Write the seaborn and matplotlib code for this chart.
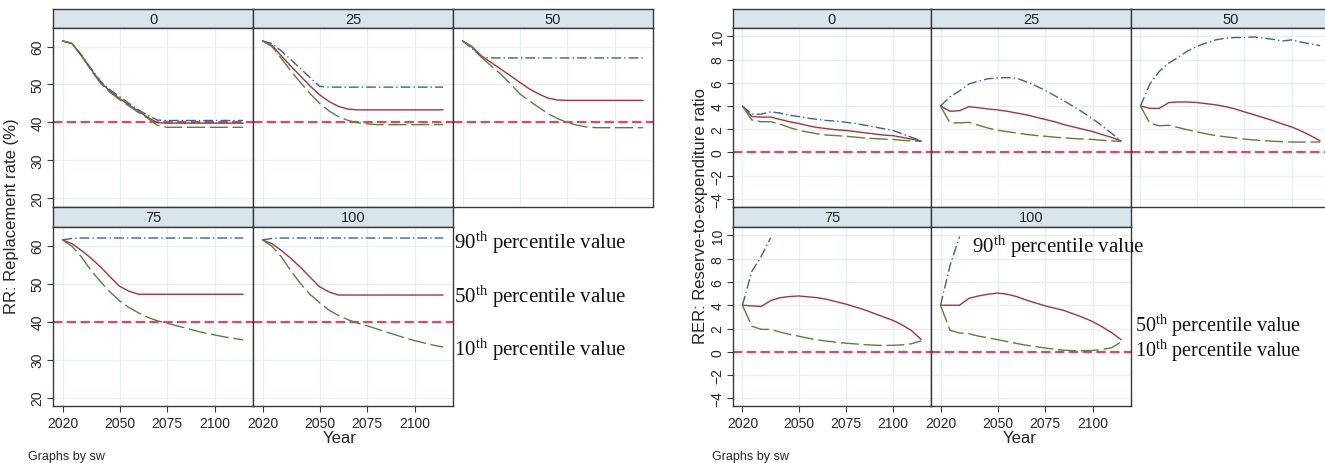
import numpy as np
import pandas as pd
import matplotlib
matplotlib.use("Agg")
import matplotlib.pyplot as plt
import seaborn as sns

# ---------------- data ----------------
YEARS = [2020, 2025, 2030, 2035, 2040, 2045, 2050, 2055, 2060, 2065,
         2070, 2075, 2080, 2085, 2090, 2095, 2100, 2105, 2110, 2115]
SW = [0, 25, 50, 75, 100]
NaN = float("nan")

# RR: replacement rate (%)
rr_p90_0 = [61.5, 60.8, 57.8, 54.2, 50.8, 48.6, 46.8, 45.0, 43.3, 41.8, 40.6, 40.5, 40.5, 40.5, 40.5, 40.5, 40.5, 40.5, 40.5, 40.5]
rr_p50_0 = [61.5, 60.8, 57.6, 54.0, 50.6, 48.2, 46.3, 44.6, 42.9, 41.3, 39.9, 39.8, 39.8, 39.8, 39.8, 39.8, 39.8, 39.8, 39.8, 39.8]
rr_p10_0 = [61.5, 60.8, 57.5, 53.8, 50.3, 47.9, 46.0, 44.3, 42.6, 41.0, 39.2, 38.7, 38.7, 38.7, 38.7, 38.7, 38.7, 38.7, 38.7, 38.7]

rr_p90_25 = [61.5, 60.8, 58.8, 56.5, 54.2, 51.8, 49.5, 49.3, 49.3, 49.3, 49.3, 49.3, 49.3, 49.3, 49.3, 49.3, 49.3, 49.3, 49.3, 49.3]
rr_p50_25 = [61.5, 60.3, 57.5, 54.8, 52.2, 49.6, 47.3, 45.5, 44.2, 43.5, 43.3, 43.3, 43.3, 43.3, 43.3, 43.3, 43.3, 43.3, 43.3, 43.3]
rr_p10_25 = [61.5, 60.0, 56.8, 53.5, 50.5, 47.6, 45.0, 43.0, 41.5, 40.5, 39.9, 39.6, 39.4, 39.4, 39.4, 39.4, 39.4, 39.4, 39.4, 39.4]

rr_p90_50 = [61.5, 59.5, 57.2, 57.0, 57.0, 57.0, 57.0, 57.0, 57.0, 57.0, 57.0, 57.0, 57.0, 57.0, 57.0, 57.0, 57.0, 57.0, 57.0, 57.0]
rr_p50_50 = [61.5, 60.0, 57.5, 55.8, 54.1, 52.4, 50.6, 48.9, 47.5, 46.4, 45.9, 45.8, 45.8, 45.8, 45.8, 45.8, 45.8, 45.8, 45.8, 45.8]
rr_p10_50 = [61.5, 59.8, 57.2, 54.9, 52.8, 50.3, 47.6, 45.7, 44.0, 42.3, 41.0, 40.0, 39.3, 38.8, 38.6, 38.6, 38.6, 38.6, 38.6, 38.6]

rr_p90_75 = [61.5, 61.9, 62.0, 62.0, 62.0, 62.0, 62.0, 62.0, 62.0, 62.0, 62.0, 62.0, 62.0, 62.0, 62.0, 62.0, 62.0, 62.0, 62.0, 62.0]
rr_p50_75 = [61.5, 60.5, 58.7, 56.7, 54.4, 51.8, 49.3, 48.0, 47.2, 47.2, 47.2, 47.2, 47.2, 47.2, 47.2, 47.2, 47.2, 47.2, 47.2, 47.2]
rr_p10_75 = [61.5, 59.8, 57.0, 53.5, 50.5, 47.8, 45.5, 43.7, 42.3, 41.1, 40.2, 39.6, 38.9, 38.3, 37.6, 37.0, 36.5, 36.0, 35.6, 35.2]

rr_p90_100 = [61.5, 61.9, 62.0, 62.0, 62.0, 62.0, 62.0, 62.0, 62.0, 62.0, 62.0, 62.0, 62.0, 62.0, 62.0, 62.0, 62.0, 62.0, 62.0, 62.0]
rr_p50_100 = [61.5, 60.5, 58.7, 56.6, 54.3, 51.7, 49.2, 47.8, 47.0, 47.0, 47.0, 47.0, 47.0, 47.0, 47.0, 47.0, 47.0, 47.0, 47.0, 47.0]
rr_p10_100 = [61.5, 59.8, 57.0, 53.3, 50.0, 47.2, 45.0, 43.0, 41.6, 40.5, 39.6, 38.9, 38.1, 37.3, 36.5, 35.7, 35.0, 34.4, 33.8, 33.3]

# RER: reserve-to-expenditure ratio
rer_p90_0 = [4.0, 3.3, 3.3, 3.5, 3.4, 3.2, 3.1, 2.95, 2.85, 2.75, 2.7, 2.6, 2.5, 2.35, 2.2, 2.05, 1.9, 1.6, 1.3, 1.0]
rer_p50_0 = [4.0, 3.1, 3.05, 3.05, 2.85, 2.65, 2.5, 2.3, 2.15, 2.05, 1.95, 1.9, 1.8, 1.7, 1.6, 1.5, 1.45, 1.3, 1.15, 1.0]
rer_p10_0 = [4.0, 2.8, 2.65, 2.65, 2.45, 2.15, 1.9, 1.75, 1.6, 1.5, 1.45, 1.4, 1.32, 1.25, 1.2, 1.15, 1.12, 1.05, 1.0, 0.95]

rer_p90_25 = [4.0, 4.8, 5.3, 5.9, 6.15, 6.35, 6.42, 6.45, 6.4, 6.1, 5.75, 5.35, 4.9, 4.45, 3.95, 3.45, 2.9, 2.3, 1.65, 1.0]
rer_p50_25 = [4.0, 3.55, 3.6, 3.95, 3.85, 3.75, 3.67, 3.55, 3.4, 3.25, 3.05, 2.85, 2.65, 2.4, 2.2, 2.0, 1.8, 1.55, 1.3, 1.0]
rer_p10_25 = [4.0, 2.55, 2.55, 2.6, 2.35, 2.1, 1.92, 1.8, 1.68, 1.56, 1.47, 1.4, 1.32, 1.26, 1.2, 1.16, 1.13, 1.05, 1.0, 0.95]

rer_p90_50 = [4.0, 5.9, 7.0, 7.7, 8.2, 8.75, 9.15, 9.45, 9.7, 9.85, 9.9, 9.9, 9.95, 9.85, 9.75, 9.6, 9.7, 9.5, 9.35, 9.2]
rer_p50_50 = [4.0, 3.8, 3.8, 4.3, 4.35, 4.35, 4.3, 4.2, 4.1, 3.95, 3.75, 3.5, 3.25, 3.0, 2.75, 2.45, 2.2, 1.85, 1.45, 1.0]
rer_p10_50 = [4.0, 2.5, 2.3, 2.35, 2.15, 1.95, 1.78, 1.6, 1.45, 1.35, 1.25, 1.15, 1.08, 1.02, 0.97, 0.93, 0.9, 0.9, 0.9, 0.9]

rer_p90_75 = [4.0, 6.9, 8.2, 9.8, NaN, NaN, NaN, NaN, NaN, NaN, NaN, NaN, NaN, NaN, NaN, NaN, NaN, NaN, NaN, NaN]
rer_p50_75 = [4.0, 3.95, 3.9, 4.4, 4.65, 4.75, 4.8, 4.72, 4.65, 4.5, 4.3, 4.1, 3.85, 3.6, 3.3, 3.0, 2.7, 2.3, 1.8, 1.05]
rer_p10_75 = [4.0, 2.2, 1.93, 1.93, 1.7, 1.5, 1.34, 1.17, 1.02, 0.92, 0.82, 0.74, 0.68, 0.62, 0.57, 0.55, 0.56, 0.6, 0.7, 0.95]

rer_p90_100 = [4.0, 7.4, 9.9, NaN, NaN, NaN, NaN, NaN, NaN, NaN, NaN, NaN, NaN, NaN, NaN, NaN, NaN, NaN, NaN, NaN]
rer_p50_100 = [4.0, 4.0, 4.0, 4.6, 4.8, 4.95, 5.05, 4.95, 4.75, 4.45, 4.2, 3.95, 3.75, 3.55, 3.25, 2.95, 2.6, 2.15, 1.65, 1.05]
rer_p10_100 = [4.0, 1.85, 1.62, 1.55, 1.35, 1.2, 1.05, 0.88, 0.72, 0.57, 0.45, 0.33, 0.22, 0.14, 0.1, 0.1, 0.12, 0.2, 0.35, 0.85]

RR = {0: (rr_p90_0, rr_p50_0, rr_p10_0), 25: (rr_p90_25, rr_p50_25, rr_p10_25),
      50: (rr_p90_50, rr_p50_50, rr_p10_50), 75: (rr_p90_75, rr_p50_75, rr_p10_75),
      100: (rr_p90_100, rr_p50_100, rr_p10_100)}
RER = {0: (rer_p90_0, rer_p50_0, rer_p10_0), 25: (rer_p90_25, rer_p50_25, rer_p10_25),
       50: (rer_p90_50, rer_p50_50, rer_p10_50), 75: (rer_p90_75, rer_p50_75, rer_p10_75),
       100: (rer_p90_100, rer_p50_100, rer_p10_100)}

RR_TICKS = [20, 30, 40, 50, 60]
RER_TICKS = [-4, -2, 0, 2, 4, 6, 8, 10]
X_TICKS = [2020, 2050, 2075, 2100]
RR_REF = 40
RER_REF = 0


def long_df(d):
    rows = []
    for sw, (p90, p50, p10) in d.items():
        for name, vals in (("p90", p90), ("p50", p50), ("p10", p10)):
            for yr, v in zip(YEARS, vals):
                rows.append({"sw": sw, "pct": name, "year": yr, "value": v})
    return pd.DataFrame(rows).dropna()


df_rr = long_df(RR)
df_rer = long_df(RER)

# ---------------- style ----------------
sns.set_style("white")
plt.rcParams["font.family"] = ["Liberation Sans", "DejaVu Sans"]
plt.rcParams["mathtext.fontset"] = "custom"
plt.rcParams["mathtext.rm"] = "Liberation Serif"
plt.rcParams["mathtext.it"] = "Liberation Serif:italic"

W, H = 1325, 464
fig = plt.figure(figsize=(W / 100, H / 100), dpi=100)
fig.patch.set_facecolor("white")

PAL = {"p90": "#36659a", "p50": "#a4343f", "p10": "#5b8233"}
DASH = {"p90": (7, 2.2, 1, 2.2), "p50": "", "p10": (13, 3.4)}
STRIP = "#d8e5ec"
GRID = "#e6eff2"
FRAME = "#3a3a3a"
REFC = "#e0466c"


def px_axes(x0, y0, x1, y1):
    return fig.add_axes([x0 / W, 1 - y1 / H, (x1 - x0) / W, (y1 - y0) / H])


def draw_chart(df, cols, ylim, yticks, ref, ylabel, ylabel_x, year_x, graphs_x):
    rows_strip = [(10, 29), (208, 228)]
    rows_plot = [(29, 207.5), (228, 407)]
    layout = [(0, 0, 0), (0, 1, 25), (0, 2, 50), (1, 0, 75), (1, 1, 100)]
    for r, c, sw in layout:
        x0, x1 = cols[c]
        sax = px_axes(x0, rows_strip[r][0], x1, rows_strip[r][1])
        sax.set_facecolor(STRIP)
        sax.set_xticks([]); sax.set_yticks([])
        for s in sax.spines.values():
            s.set_color(FRAME); s.set_linewidth(1.0)
        sax.text(0.5, 0.5, str(sw), ha="center", va="center", fontsize=10.5,
                 transform=sax.transAxes, color="#222222")

        ax = px_axes(x0, rows_plot[r][0], x1, rows_plot[r][1])
        sub = df[df["sw"] == sw]
        ax.axhline(ref, color=REFC, lw=1.6, ls=(0, (4.2, 2.0)), zorder=1)
        sns.lineplot(data=sub, x="year", y="value", hue="pct", style="pct",
                     palette=PAL, dashes=DASH, estimator=None, errorbar=None,
                     sort=True, linewidth=1.0, legend=False, ax=ax, zorder=3)
        ax.set_xlim(2015, 2120.2)
        ax.set_ylim(*ylim)
        ax.set_xticks(X_TICKS)
        ax.set_yticks(yticks)
        ax.grid(True, color=GRID, lw=0.9)
        ax.set_axisbelow(True)
        ax.set_xlabel(""); ax.set_ylabel("")
        for s in ax.spines.values():
            s.set_color(FRAME); s.set_linewidth(1.0)
        show_y = (c == 0)
        show_x = (r == 1)
        ax.tick_params(axis="y", left=show_y, labelleft=show_y, length=4, width=0.8,
                       color=FRAME, labelsize=10, pad=2, labelrotation=90)
        ax.tick_params(axis="x", bottom=show_x, labelbottom=show_x, length=4, width=0.8,
                       color=FRAME, labelsize=10, pad=3)
        if show_y:
            for lab in ax.get_yticklabels():
                lab.set_va("center")
    fig.text(ylabel_x / W, 1 - 216 / H, ylabel, rotation=90, ha="center", va="center",
             fontsize=12)
    fig.text(year_x / W, 1 - 439 / H, "Year", ha="center", va="center", fontsize=12)
    fig.text(graphs_x / W, 1 - 457 / H, "Graphs by sw", ha="left", va="center", fontsize=9)


draw_chart(df_rr, [(53, 253), (253, 453), (453, 653)], (17.8, 64.9), RR_TICKS, RR_REF,
           "RR: Replacement rate (%)", 12, 340, 28)
draw_chart(df_rer, [(733, 931), (931, 1131), (1131, 1330)], (-4.65, 10.72), RER_TICKS, RER_REF,
           "RER: Reserve-to-expenditure ratio", 700, 1020, 712)

SERIF = ["Liberation Serif", "DejaVu Serif"]
labels = [("90", 453.5, 243, 15), ("50", 453.5, 297, 15), ("10", 453.5, 349.5, 15),
          ("90", 972, 247, 15), ("50", 1135, 326, 14.5), ("10", 1135, 350.5, 14.5)]
for num, x, y, fs in labels:
    fig.text(x / W, 1 - (y + 6) / H, num + r"$^{\rm th}$ percentile value",
             ha="left", va="baseline", fontsize=fs, family=SERIF, color="#111111")

fig.savefig("out.png", dpi=100, facecolor="white")
